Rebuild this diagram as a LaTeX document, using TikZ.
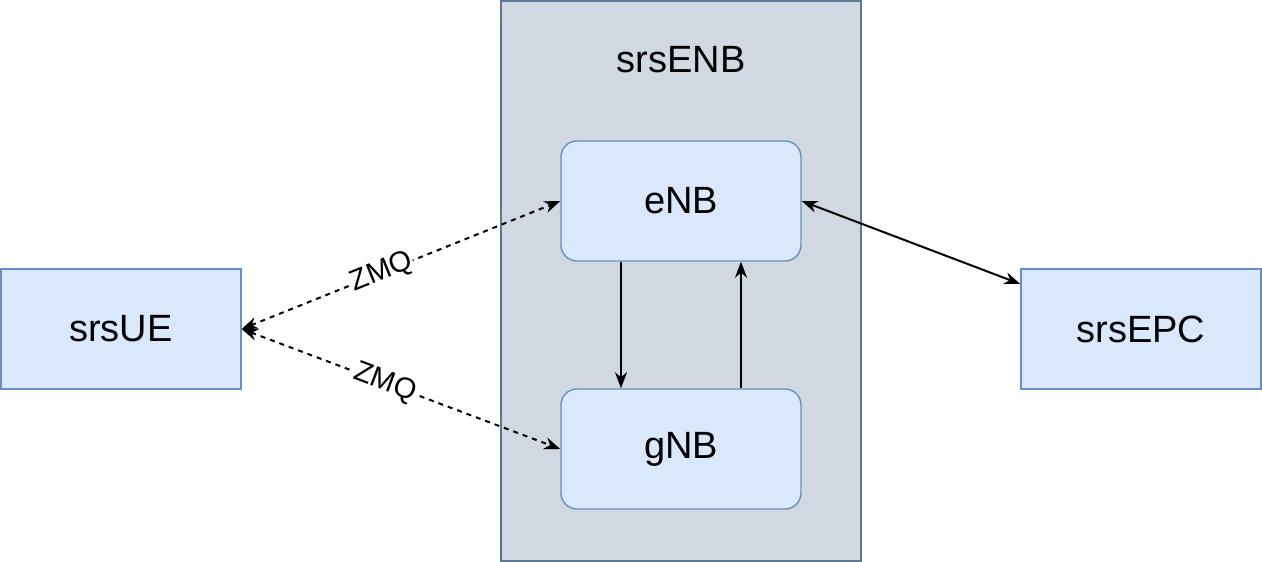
\documentclass[tikz,border=0pt]{standalone}
\usepackage{fontspec}
\setmainfont{Liberation Sans}
\usetikzlibrary{arrows.meta}
\definecolor{boxfill}{HTML}{DAE8FC}
\definecolor{boxline}{HTML}{6C8EBF}
\definecolor{grpfill}{HTML}{D0D8E1}
\definecolor{grpline}{HTML}{5F7891}
\tikzset{
  box/.style={draw=boxline, fill=boxfill, line width=1.4pt, minimum width=240pt, minimum height=120pt, inner sep=0pt, font=\fontsize{38}{42}\selectfont},
  rbox/.style={box, rounded corners=16pt},
  group/.style={draw=grpline, fill=grpfill, line width=1.4pt, minimum width=360pt, minimum height=560pt, inner sep=0pt},
  title/.style={font=\fontsize{38}{42}\selectfont},
  arr/.style={line width=2pt, -{Stealth[length=16pt, width=12pt, inset=5pt]}},
  darr/.style={line width=2pt, {Stealth[length=16pt, width=12pt, inset=5pt]}-{Stealth[length=16pt, width=12pt, inset=5pt]}},
  dsh/.style={dash pattern=on 5pt off 5pt},
  zmq/.style={fill=white, inner sep=1pt, sloped, font=\fontsize{29}{32}\selectfont}
}
\begin{document}
\begin{tikzpicture}[x=1pt,y=-1pt]
\useasboundingbox (0,0) rectangle (1262,562);
\node[group] (grp) at (681,281) {};
\node[title] (grptitle) at (681,60) {srsENB};
\node[rbox] (eNB) at (681,201) {eNB};
\node[rbox] (gNB) at (681,449) {gNB};
\node[box] (srsUE) at (121,329) {srsUE};
\node[box] (srsEPC) at (1141,329) {srsEPC};
\draw[arr] ([xshift=-60pt]eNB.south) -- ([xshift=-60pt]gNB.north);
\draw[arr] ([xshift=60pt]gNB.north) -- ([xshift=60pt]eNB.south);
\draw[darr, dsh] (srsUE.east) -- node[zmq, pos=0.44] {ZMQ} (eNB.west);
\draw[darr, dsh] (srsUE.east) -- node[zmq, pos=0.45] {ZMQ} (gNB.west);
\draw[darr] (eNB.east) -- ([yshift=45pt]srsEPC.west);
\end{tikzpicture}
\end{document}
